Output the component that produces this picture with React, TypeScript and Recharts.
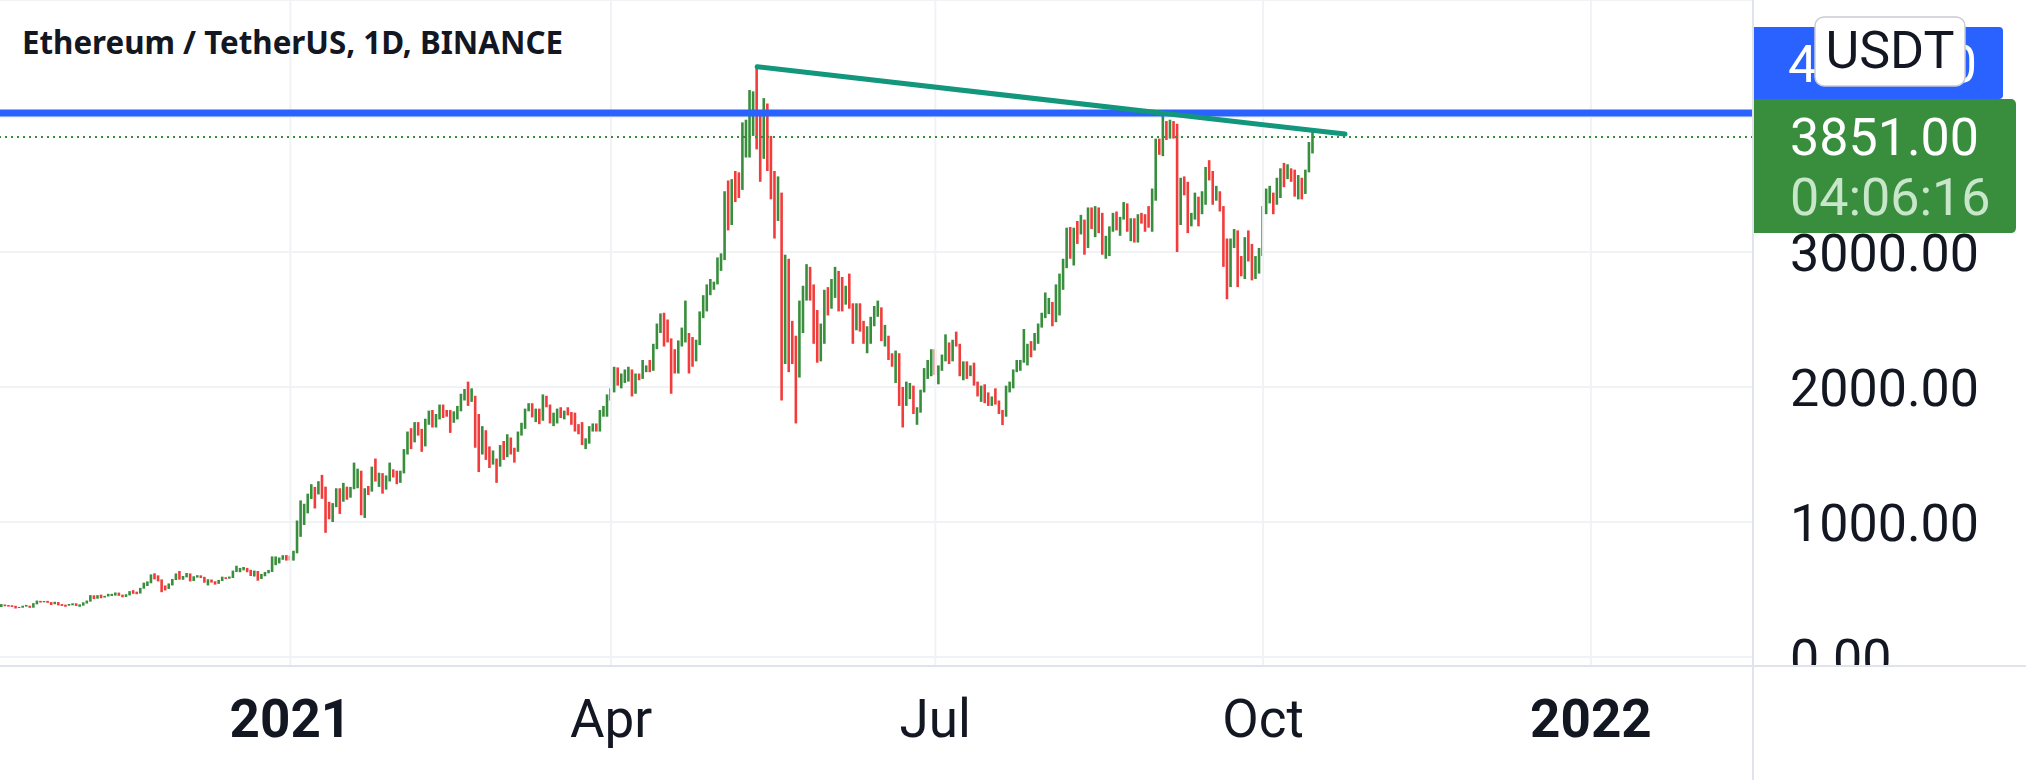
import React from 'react';
import { ComposedChart, Bar, Cell, XAxis, YAxis, CartesianGrid, ReferenceLine } from 'recharts';

// ---------- DATA ----------
const title = 'Ethereum / TetherUS, 1D, BINANCE';
const currency = 'USDT';
const firstDay = [2020, 9, 12]; // 2020-10-12 (UTC y, m0, d)
const axisLastDay = [2022, 1, 15]; // 2022-02-15
const firstOpen = 374;

// daily bars: [high, low, close]
const oct2020 = [[392,370,387],[389,375,381],[385,373,379],[384,370,377],[380,360,366],[371,363,368],[380,365,377],[386,373,379],[380,364,369],[399,365,392],[418,390,414],[416,403,409],[415,405,412],[416,401,406],[407,385,393],[409,391,404],[407,382,388],[392,378,386],[388,372,383],[393,380,386]];
const nov2020 = [[398,383,396],[398,378,383],[390,372,388],[405,380,401],[418,396,414],[458,410,454],[457,429,435],[458,432,454],[462,435,444],[453,440,450],[468,448,462],[468,452,462],[478,455,475],[477,453,460],[462,442,448],[465,445,460],[488,456,481],[495,468,479],[484,465,471],[512,470,509],[551,506,549],[560,526,558],[612,546,608],[620,575,603],[605,560,569],[575,480,518],[530,493,517],[545,504,538],[578,530,575],[619,570,615]];
const dec2020 = [[637,573,587],[600,572,598],[622,590,616],[619,560,569],[598,563,596],[606,588,601],[605,585,591],[594,550,554],[576,530,573],[574,551,560],[561,536,545],[571,542,568],[595,563,590],[591,578,586],[596,580,589],[640,585,636],[676,630,643],[660,628,655],[667,642,658],[660,628,638],[646,600,608],[640,596,635],[637,565,583],[615,578,611],[630,598,626],[645,620,635],[745,630,683],[745,680,730],[737,693,731],[754,720,751],[755,714,737]];
const jan2021 = [[750,715,730],[787,714,774],[1011,768,975],[1160,890,1041],[1135,978,1100],[1210,1064,1208],[1280,1170,1225],[1260,1100,1224],[1302,1204,1281],[1349,1172,1262],[1262,920,1090],[1150,1020,1043],[1140,1000,1130],[1250,1110,1218],[1250,1060,1171],[1290,1150,1233],[1262,1165,1230],[1260,1180,1257],[1440,1243,1377],[1395,1250,1382],[1380,1050,1121],[1250,1030,1236],[1267,1200,1231],[1410,1225,1391],[1470,1300,1324],[1365,1260,1357],[1362,1210,1253],[1345,1240,1331],[1440,1300,1382],[1390,1330,1376],[1380,1280,1314]];
const feb2021 = [[1380,1290,1369],[1540,1360,1515],[1670,1500,1660],[1695,1540,1594],[1740,1590,1719],[1740,1640,1677],[1690,1520,1614],[1765,1560,1750],[1825,1720,1769],[1830,1700,1744],[1800,1700,1783],[1870,1760,1843],[1870,1770,1814],[1830,1780,1804],[1830,1660,1779],[1820,1735,1781],[1860,1760,1849],[1950,1820,1938],[1985,1900,1960],[2040,1860,1919],[1990,1890,1935],[1935,1550,1777],[1800,1370,1571],[1710,1500,1626],[1680,1460,1475],[1560,1400,1446],[1530,1425,1459],[1470,1290,1416]];
const mar2021 = [[1570,1410,1564],[1600,1460,1492],[1650,1480,1575],[1625,1500,1541],[1550,1440,1533],[1670,1520,1654],[1735,1640,1723],[1840,1690,1835],[1880,1820,1869],[1880,1775,1795],[1840,1740,1825],[1840,1725,1772],[1945,1750,1924],[1935,1850,1854],[1870,1730,1791],[1810,1710,1806],[1840,1730,1823],[1850,1770,1780],[1825,1760,1810],[1850,1790,1806],[1815,1720,1782],[1810,1670,1681],[1725,1650,1669],[1740,1570,1581],[1620,1540,1586],[1710,1580,1700],[1730,1670,1715],[1730,1670,1691],[1830,1670,1818],[1860,1780,1846],[1945,1780,1919]];
const apr2021 = [[1990,1900,1977],[2150,1960,2142],[2145,2010,2028],[2100,1990,2093],[2130,2030,2108],[2150,2040,2116],[2130,1930,1960],[2100,1950,2084],[2100,2050,2071],[2200,2060,2136],[2160,2110,2157],[2200,2110,2139],[2320,2120,2300],[2470,2280,2431],[2545,2400,2515],[2550,2300,2421],[2500,2330,2354],[2360,1950,2237],[2280,2100,2165],[2345,2100,2331],[2440,2300,2364],[2640,2330,2401],[2400,2100,2364],[2370,2150,2209],[2350,2190,2315],[2560,2310,2535],[2680,2510,2662],[2760,2560,2747],[2800,2680,2757],[2780,2720,2773]];
const may2021 = [[2960,2760,2945],[2990,2860,2949],[3450,2940,3431],[3530,3160,3240],[3540,3200,3524],[3600,3370,3490],[3590,3400,3482],[3960,3460,3902],[3980,3700,3928],[4200,3700,3952],[4190,3860,4168],[4372,3760,3785],[4050,3520,3715],[4140,3690,4079],[4100,3600,3641],[3860,3390,3587],[3600,3100,3282],[3560,3230,3380],[3440,1900,2460],[2980,2170,2784],[2950,2110,2431],[2490,2170,2296],[2380,1730,2109],[2640,2070,2643],[2750,2400,2706],[2910,2640,2888],[2890,2640,2736],[2760,2320,2419],[2570,2180,2278],[2470,2190,2386],[2720,2320,2707]];
const jun2021 = [[2740,2530,2633],[2800,2580,2706],[2890,2660,2856],[2860,2560,2688],[2815,2560,2630],[2750,2610,2714],[2840,2580,2590],[2620,2320,2517],[2620,2420,2609],[2620,2410,2472],[2490,2320,2353],[2450,2250,2372],[2520,2320,2508],[2600,2450,2573],[2640,2520,2590],[2590,2340,2368],[2460,2300,2373],[2380,2200,2231],[2250,2150,2166],[2270,2030,2242],[2250,1860,1900],[2000,1700,1875],[2040,1860,1970],[2030,1910,1990],[2010,1800,1805],[1850,1720,1823],[1980,1810,1973],[2140,1960,2085],[2200,2060,2161],[2280,2080,2275]];
const jul2021 = [[2280,2090,2112],[2160,2020,2150],[2240,2120,2226],[2390,2190,2324],[2330,2170,2198],[2350,2190,2323],[2410,2300,2316],[2320,2080,2115],[2190,2050,2146],[2190,2060,2110],[2160,2080,2140],[2180,2010,2034],[2040,1930,1940],[2010,1890,1995],[2020,1880,1918],[1960,1860,1880],[1930,1860,1897],[1990,1870,1894],[1900,1800,1820],[1830,1718,1787],[2010,1780,1995],[2040,1960,2025],[2130,1990,2123],[2200,2110,2189],[2200,2120,2191],[2430,2180,2233],[2320,2160,2299],[2340,2220,2298],[2400,2270,2382],[2470,2320,2461],[2550,2440,2533]];
const aug2021 = [[2700,2510,2557],[2660,2540,2608],[2630,2450,2507],[2760,2480,2725],[2840,2530,2827],[2950,2720,2890],[3180,2880,3158],[3185,2950,3012],[3180,2900,3163],[3230,3060,3141],[3275,3130,3164],[3240,2980,3044],[3330,3030,3322],[3330,3170,3265],[3340,3110,3310],[3330,3140,3147],[3290,2980,3012],[3120,2950,3018],[3190,2970,3185],[3290,3150,3287],[3300,3160,3225],[3260,3120,3243],[3370,3240,3322],[3360,3150,3173],[3250,3080,3227],[3250,3070,3114],[3280,3070,3269],[3290,3210,3245],[3280,3150,3226],[3340,3180,3224],[3470,3150,3433]];
const sep2021 = [[3840,3380,3834],[3840,3720,3790],[4027,3710,3940],[3970,3830,3887],[3980,3840,3952],[3970,3840,3928],[3950,3000,3429],[3550,3200,3497],[3560,3420,3426],[3520,3140,3208],[3290,3190,3266],[3440,3240,3407],[3410,3190,3285],[3450,3280,3429],[3630,3350,3612],[3680,3530,3572],[3600,3350,3399],[3490,3380,3433],[3450,3300,3330],[3340,2890,2977],[3100,2650,2758],[3100,2740,3077],[3170,3030,3155],[3160,2740,2930],[2970,2820,2926],[3110,2800,3063],[3160,2930,2934],[3060,2790,2807],[2970,2800,2852],[3030,2840,3001]];
const oct2021 = [[3340,2970,3307],[3470,3280,3391],[3490,3360,3418],[3440,3280,3381],[3550,3350,3517],[3620,3400,3589],[3660,3480,3562],[3650,3540,3576],[3620,3520,3545],[3610,3410,3417],[3570,3390,3540],[3550,3390,3499],[3610,3430,3606],[3815,3590,3786],[3890,3730,3851]];
const monthlyBars = [oct2020, nov2020, dec2020, jan2021, feb2021, mar2021, apr2021, may2021, jun2021, jul2021, aug2021, sep2021, oct2021];

const priceTicks = [0, 1000, 2000, 3000, 4000];
const timeTicks = ['2021-01-01', '2021-04-01', '2021-07-01', '2021-10-01', '2022-01-01'];
const timeTickLabels = ['2021', 'Apr', 'Jul', 'Oct', '2022'];
const boldTickLabels = ['2021', '2022'];
const resistanceLevel = 4030;
const resistanceLabel = '4030.00';
const lastPrice = 3851;
const lastPriceLabel = '3851.00';
const countdown = '04:06:16';
const trendStart = { date: '2021-05-12', price: 4372 };
const trendEnd = { date: '2021-10-24', price: 3874 };

// ---------- LAYOUT / STYLE ----------
const W = 2026;
const H = 780;
const Y_AXIS_W = 273;
const X_AXIS_H = 114;
const PLOT_RIGHT = W - Y_AXIS_W;
const PLOT_BOTTOM = H - X_AXIS_H;
const UP = '#388e3c';
const DOWN = '#f23c3c';
const GRID = '#f0f2f6';
const FRAME = '#e0e3eb';
const TEXT = '#131722';
const BLUE = '#2962ff';
const TEAL = '#12967c';
const FONT = 'Roboto, "Noto Sans", sans-serif';

type Row = { date: string; range: [number, number] | null; up: boolean };

function buildRows(): Row[] {
  const flat = monthlyBars.flat();
  const rows: Row[] = [];
  const start = Date.UTC(firstDay[0], firstDay[1], firstDay[2]);
  const end = Date.UTC(axisLastDay[0], axisLastDay[1], axisLastDay[2]);
  let prevClose = firstOpen;
  let i = 0;
  for (let t = start; t <= end; t += 86400000, i++) {
    const date = new Date(t).toISOString().slice(0, 10);
    const bar = flat[i];
    if (bar) {
      const [high, low, close] = bar;
      rows.push({ date, range: [low, high], up: close >= prevClose });
      prevClose = close;
    } else {
      rows.push({ date, range: null, up: true });
    }
  }
  return rows;
}

const rows = buildRows();

const PriceTick = (props: any) => {
  const { y, payload } = props;
  const v = payload.value as number;
  if (v === 4000) return <g />;
  const top = y - 45;
  const h = Math.max(0, Math.min(90, PLOT_BOTTOM - top));
  return (
    <svg x={PLOT_RIGHT} y={top} width={Y_AXIS_W} height={h} overflow="hidden">
      <text x={37} y={45 + 19} fill={TEXT} fontSize={52} fontFamily={FONT}>
        {v.toFixed(2)}
      </text>
    </svg>
  );
};

const TimeTick = (props: any) => {
  const { x, payload } = props;
  const idx = timeTicks.indexOf(payload.value);
  const label = idx >= 0 ? timeTickLabels[idx] : '';
  const bold = boldTickLabels.includes(label);
  return (
    <text x={x} y={PLOT_BOTTOM + 71} textAnchor="middle" fill={TEXT} fontSize={53}
      fontWeight={bold ? 700 : 400} fontFamily={FONT}>
      {label}
    </text>
  );
};

const ResistanceTag = (props: any) => {
  const vb = props.viewBox || {};
  const x0 = (vb.x ?? 0) + (vb.width ?? PLOT_RIGHT);
  const ly = vb.y ?? 113;
  return (
    <g>
      <path d={`M${x0},${ly - 86} H${x0 + 246} a4,4 0 0 1 4,4 V${ly - 18} a4,4 0 0 1 -4,4 H${x0} Z`} fill={BLUE} />
      <text x={x0 + 35} y={ly - 31} fill="#ffffff" fontSize={52} fontFamily={FONT}>{resistanceLabel}</text>
      <rect x={x0 + 62} y={ly - 96} width={150} height={69} rx={9} ry={9} fill="#ffffff" stroke="#c9ccd4" strokeWidth={1.5} />
      <text x={x0 + 137} y={ly - 45} textAnchor="middle" fill={TEXT} fontSize={52} fontFamily={FONT}>{currency}</text>
    </g>
  );
};

const LastPriceTag = (props: any) => {
  const vb = props.viewBox || {};
  const x0 = (vb.x ?? 0) + (vb.width ?? PLOT_RIGHT);
  const ly = vb.y ?? 137;
  return (
    <g>
      <path d={`M${x0},${ly - 38} H${x0 + 258} a5,5 0 0 1 5,5 V${ly + 91} a5,5 0 0 1 -5,5 H${x0} Z`} fill={UP} />
      <text x={x0 + 37} y={ly + 18} fill="#ffffff" fontSize={52} fontFamily={FONT}>{lastPriceLabel}</text>
      <text x={x0 + 37} y={ly + 78} fill="#c8e6c9" fontSize={52} fontFamily={FONT}>{countdown}</text>
    </g>
  );
};

export default function App() {
  return (
    <div style={{ position: 'fixed', left: 0, top: 0, width: W, height: H, background: '#ffffff' }}>
      <ComposedChart width={W} height={H} data={rows} margin={{ top: 0, right: 0, bottom: 0, left: 0 }} barCategoryGap={0}>
        <CartesianGrid vertical={false} stroke={GRID} strokeWidth={2} />
        {timeTicks.map((d) => (
          <ReferenceLine key={d} x={d} stroke={GRID} strokeWidth={2} />
        ))}
        <XAxis dataKey="date" type="category" height={X_AXIS_H} ticks={timeTicks} interval={0}
          axisLine={false} tickLine={false} tick={(p: any) => <TimeTick {...p} />} />
        <YAxis orientation="right" type="number" width={Y_AXIS_W} domain={[-66.7, 4866.7]} allowDataOverflow
          ticks={priceTicks} interval={0} axisLine={false} tickLine={false}
          tick={(p: any) => <PriceTick {...p} />} />
        <ReferenceLine y={resistanceLevel} stroke={BLUE} strokeWidth={7} label={(p: any) => <ResistanceTag {...p} />} />
        <ReferenceLine y={lastPrice} stroke={UP} strokeWidth={2} strokeDasharray="2 4" label={(p: any) => <LastPriceTag {...p} />} />
        <Bar dataKey="range" barSize={2.6} isAnimationActive={false}>
          {rows.map((r, i) => (
            <Cell key={i} fill={r.up ? UP : DOWN} />
          ))}
        </Bar>
        <ReferenceLine
          segment={[{ x: trendStart.date, y: trendStart.price }, { x: trendEnd.date, y: trendEnd.price }]}
          stroke={TEAL} strokeWidth={5} strokeLinecap="round" />
      </ComposedChart>
      <svg width={W} height={H} style={{ position: 'absolute', left: 0, top: 0, pointerEvents: 'none' }}>
        <line x1={0} y1={PLOT_BOTTOM} x2={W} y2={PLOT_BOTTOM} stroke={FRAME} strokeWidth={2} />
        <line x1={PLOT_RIGHT} y1={0} x2={PLOT_RIGHT} y2={H} stroke={FRAME} strokeWidth={2} />
        <text x={22} y={54} fill={TEXT} fontSize={33} fontWeight={700} fontFamily='"Noto Sans", sans-serif'
          textLength={541} lengthAdjust="spacingAndGlyphs">{title}</text>
      </svg>
    </div>
  );
}
